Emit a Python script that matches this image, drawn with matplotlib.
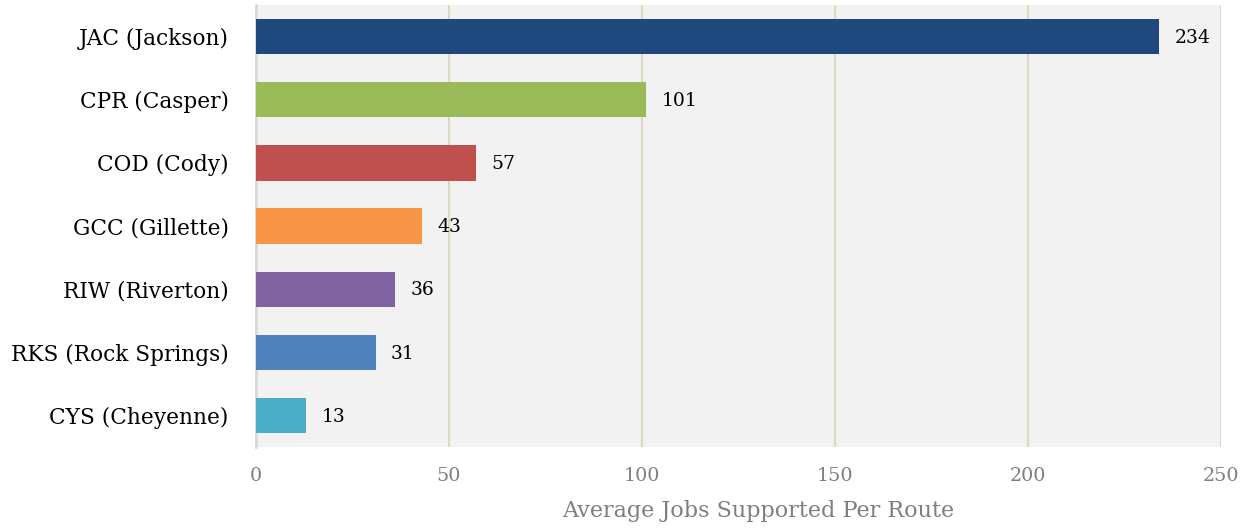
import matplotlib
matplotlib.use('Agg')
import matplotlib.pyplot as plt

airports = ["JAC (Jackson)", "CPR (Casper)", "COD (Cody)", "GCC (Gillette)",
            "RIW (Riverton)", "RKS (Rock Springs)", "CYS (Cheyenne)"]
jobs = [234, 101, 57, 43, 36, 31, 13]
colors = ["#1f497d", "#9bbb59", "#c0504d", "#f79646", "#8064a2", "#4f81bd", "#4bacc6"]
x_ticks = [0, 50, 100, 150, 200, 250]

plt.rcParams['font.family'] = ['DejaVu Serif']

fig = plt.figure(figsize=(12.54, 5.31), dpi=100)
ax = fig.add_axes([0.2041, 0.158, 0.7696, 0.8326])
ax.set_facecolor("#f2f2f2")

pos = list(range(len(airports)))
ax.barh(pos, jobs, height=0.56, color=colors, zorder=3)
for p, v in zip(pos, jobs):
    ax.text(v + 4, p + 0.02, str(v), va='center', ha='left', fontsize=13.5, color='#000000', zorder=4)

ax.set_ylim(len(airports) - 0.5, -0.5)
ax.set_xlim(0, 250)
ax.set_yticks(pos)
ax.set_yticklabels(airports, fontsize=15.6)
ax.set_xticks(x_ticks)
ax.set_xticklabels([str(t) for t in x_ticks], fontsize=13.8, color='#7f7f7f')
ax.tick_params(axis='both', length=0)
ax.tick_params(axis='x', pad=14)
ax.tick_params(axis='y', pad=19.5)
ax.grid(axis='x', color='#ddd9c3', linewidth=1.5, zorder=1)
for s in ['top', 'right', 'bottom']:
    ax.spines[s].set_visible(False)
ax.spines['left'].set_color('#d9d9d9')
ax.spines['left'].set_linewidth(2)
ax.set_xlabel("Average Jobs Supported Per Route", fontsize=16, color='#7f7f7f',
              labelpad=11, x=0.52)

plt.savefig("out.png", dpi=100)
plt.close(fig)
